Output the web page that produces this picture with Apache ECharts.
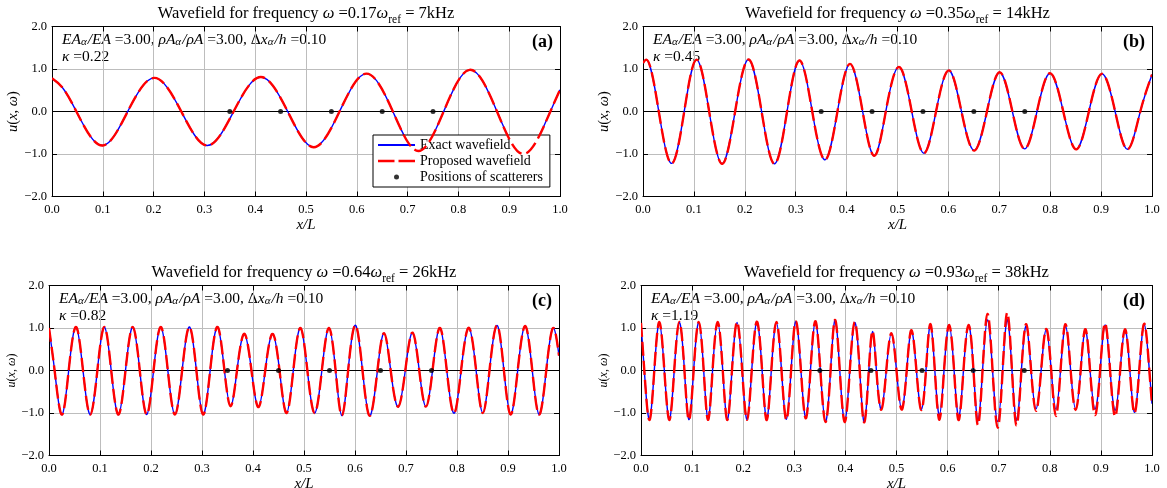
<!DOCTYPE html>
<html>
<head>
<meta charset="utf-8">
<script src="https://cdn.jsdelivr.net/npm/echarts@6/dist/echarts.min.js"></script>
<style>html,body{margin:0;padding:0;background:#fff}#c{width:1167px;height:488px}</style>
</head>
<body>
<div id="c"></div>
<script>
// ---------- data ----------
const xTickLabels = ['0.0','0.1','0.2','0.3','0.4','0.5','0.6','0.7','0.8','0.9','1.0'];
const yTickLabels = ['\u22122.0','\u22121.0','0.0','1.0','2.0'];
const omegaRatios = ['0.17','0.35','0.64','0.93'];
const freqLabels = ['7kHz','14kHz','26kHz','38kHz'];
const kappas = ['0.22','0.45','0.82','1.19'];
const panelTags = ['(a)','(b)','(c)','(d)'];
const stiffnessRatio = '3.00';
const densityRatio = '3.00';
const lengthRatio = '0.10';
const scattererX = [0.35, 0.45, 0.55, 0.65, 0.75];
const scattererY = [0, 0, 0, 0, 0];
const zeroLineX = [0, 1];
const zeroLineY = [0, 0];

// panel (a): extrema and zero crossings
const xA = [0, 0.02, 0.048, 0.100, 0.149, 0.201, 0.2545, 0.305, 0.3575, 0.411, 0.464, 0.515, 0.566, 0.619, 0.671, 0.721, 0.771, 0.822, 0.876, 0.927, 0.981, 1.0];
const exactA = [0.78, 0.57, 0, -0.80, 0, 0.79, 0, -0.80, 0, 0.81, 0, -0.84, 0, 0.89, 0, -0.93, 0, 0.98, 0, -1.00, 0, 0.51];
const proposedA = [0.78, 0.57, 0, -0.80, 0, 0.79, 0, -0.80, 0, 0.81, 0, -0.84, 0, 0.89, 0, -0.93, 0, 0.98, 0, -1.00, 0, 0.51];

// panel (b)
const xB = [0, 0.0066, 0.031, 0.057, 0.081, 0.105, 0.130, 0.156, 0.181, 0.2085, 0.233, 0.259, 0.283, 0.307, 0.3325, 0.359, 0.382, 0.4066, 0.4315, 0.455, 0.477, 0.5046, 0.528, 0.5526, 0.5757, 0.602, 0.6257, 0.651, 0.6757, 0.7007, 0.7257, 0.75, 0.774, 0.7993, 0.8257, 0.852, 0.876, 0.901, 0.9276, 0.952, 0.977, 1.0];
const exactB = [1.14, 1.22, 0, -1.22, 0, 1.22, 0, -1.23, 0, 1.22, 0, -1.23, 0, 1.20, 0, -1.13, 0, 1.12, 0, -1.04, 0, 1.04, 0, -0.98, 0, 0.965, 0, -0.92, 0, 0.925, 0, -0.88, 0, 0.90, 0, -0.89, 0, 0.886, 0, -0.89, 0, 0.87];
const proposedB = [1.14, 1.22, 0, -1.22, 0, 1.22, 0, -1.23, 0, 1.22, 0, -1.23, 0, 1.20, 0, -1.13, 0, 1.12, 0, -1.04, 0, 1.04, 0, -0.98, 0, 0.965, 0, -0.92, 0, 0.925, 0, -0.88, 0, 0.90, 0, -0.89, 0, 0.886, 0, -0.89, 0, 0.87];

// panel (c)
const xC = [0, 0.011, 0.026, 0.0386, 0.0536, 0.0667, 0.081, 0.0948, 0.109, 0.122, 0.1366, 0.150, 0.1647, 0.178, 0.192, 0.205, 0.220, 0.233, 0.247, 0.261, 0.276, 0.289, 0.302, 0.316, 0.331, 0.344, 0.356, 0.3686, 0.3837, 0.397, 0.411, 0.424, 0.439, 0.452, 0.466, 0.479, 0.4934, 0.5066, 0.521, 0.535, 0.549, 0.562, 0.574, 0.5865, 0.6016, 0.6147, 0.628, 0.644, 0.657, 0.670, 0.685, 0.6986, 0.713, 0.726, 0.739, 0.752, 0.767, 0.780, 0.795, 0.808, 0.824, 0.8375, 0.8506, 0.8637, 0.880, 0.892, 0.905, 0.919, 0.9345, 0.9476, 0.9607, 0.975, 0.9895, 1.0];
const exactC = [1.0, 0, -1.035, 0, 1.02, 0, -1.035, 0, 1.02, 0, -1.035, 0, 1.02, 0, -1.035, 0, 1.02, 0, -1.035, 0, 1.02, 0, -1.035, 0, 1.02, 0, -0.84, 0, 0.86, 0, -0.86, 0, 0.86, 0, -1.0, 0, 1.0, 0, -1.0, 0, 1.0, 0, -1.06, 0, 1.06, 0, -1.06, 0, 0.88, 0, -0.85, 0, 0.89, 0, -0.85, 0, 1.0, 0, -1.0, 0, 1.0, 0, -1.0, 0, 1.04, 0, -1.035, 0, 1.04, 0, -1.035, 0, 1.0, 0.35];
const proposedC = [1.0, 0, -1.035, 0, 1.02, 0, -1.035, 0, 1.02, 0, -1.035, 0, 1.02, 0, -1.035, 0, 1.02, 0, -1.035, 0, 1.02, 0, -1.035, 0, 1.02, 0, -0.84, 0, 0.86, 0, -0.86, 0, 0.86, 0, -1.0, 0, 1.0, 0, -1.0, 0, 1.0, 0, -1.06, 0, 1.06, 0, -1.06, 0, 0.88, 0, -0.85, 0, 0.89, 0, -0.85, 0, 1.0, 0, -1.0, 0, 1.0, 0, -1.0, 0, 1.04, 0, -1.035, 0, 1.04, 0, -1.035, 0, 1.0, 0.35];

// panel (d)
const xD = [0, 0.0065, 0.017, 0.026, 0.036, 0.0457, 0.056, 0.065, 0.075, 0.085, 0.0933, 0.103, 0.113, 0.1227, 0.131, 0.140, 0.150, 0.160, 0.1684, 0.178, 0.188, 0.198, 0.2076, 0.2167, 0.226, 0.237, 0.2454, 0.255, 0.265, 0.275, 0.2846, 0.2937, 0.302, 0.313, 0.323, 0.3316, 0.341, 0.351, 0.361, 0.371, 0.379, 0.389, 0.399, 0.4086, 0.418, 0.428, 0.436, 0.4458, 0.453, 0.4607, 0.4705, 0.480, 0.490, 0.500, 0.510, 0.520, 0.528, 0.539, 0.549, 0.5577, 0.5655, 0.575, 0.584, 0.593, 0.603, 0.6127, 0.621, 0.631, 0.641, 0.6507, 0.6586, 0.6684, 0.678, 0.688, 0.698, 0.7077, 0.716, 0.726, 0.7346, 0.7444, 0.754, 0.7634, 0.773, 0.783, 0.793, 0.8028, 0.812, 0.821, 0.831, 0.8408, 0.8506, 0.8604, 0.869, 0.8788, 0.8886, 0.8984, 0.908, 0.918, 0.928, 0.9377, 0.947, 0.9567, 0.9653, 0.975, 0.985, 0.9948, 1.0];
const exactD = [1.11, 0, -1.15, 0, 1.13, 0, -1.15, 0, 1.13, 0, -1.15, 0, 1.13, 0, -1.15, 0, 1.13, 0, -1.15, 0, 1.13, 0, -1.15, 0, 1.13, 0, -1.15, 0, 1.13, 0, -1.15, 0, 1.13, 0, -1.10, 0, 1.15, 0, -1.20, 0, 1.17, 0, -1.20, 0, 1.13, 0, -1.20, 0, 0.92, 0, -0.91, 0, 0.875, 0, -0.91, 0, 0.92, 0, -0.91, 0, 1.07, 0, -1.05, 0, 1.07, 0, -1.09, 0, 1.07, 0, -1.17, 0, 1.19, 0, -1.20, 0, 1.19, 0, -1.17, 0, 1.05, 0, -0.90, 0, 0.96, 0, -0.91, 0, 1.05, 0, -0.91, 0, 0.96, 0, -0.91, 0, 1.07, 0, -0.94, 0, 0.96, 0, -0.98, 0, 1.09, 0, -0.78];
const proposedD = [1.12, 0, -1.16, 0, 1.14, 0, -1.16, 0, 1.14, 0, -1.16, 0, 1.14, 0, -1.16, 0, 1.14, 0, -1.16, 0, 1.14, 0, -1.16, 0, 1.14, 0, -1.16, 0, 1.14, 0, -1.16, 0, 1.14, 0, -1.12, 0, 1.16, 0, -1.21, 0, 1.18, 0, -1.21, 0, 1.14, 0, -1.21, 0, 0.93, 0, -0.92, 0, 0.88, 0, -0.92, 0, 0.93, 0, -0.93, 0, 1.08, 0, -1.16, 0, 1.07, 0, -1.16, 0, 1.07, 0, -1.27, 0, 1.33, 0, -1.35, 0, 1.35, 0, -1.29, 0, 1.09, 0, -0.95, 0, 0.98, 0, -1.07, 0, 1.09, 0, -0.93, 0, 0.97, 0, -1.05, 0, 1.11, 0, -1.08, 0, 0.97, 0, -1.00, 0, 1.10, 0, -0.80];

// ---------- layout & styles ----------
const F = 'Liberation Serif';
const grids = [
  {left: 52, top: 26.5, width: 508, height: 170},
  {left: 643, top: 26.5, width: 509, height: 170},
  {left: 49, top: 285.5, width: 510, height: 170},
  {left: 641, top: 285.5, width: 511, height: 170}
];
const yNameSize = [14.5, 14.5, 12, 12];
const yNameGap = [30, 30, 29, 31];
const panels = [
  {x: xA, exact: exactA, proposed: proposedA},
  {x: xB, exact: exactB, proposed: proposedB},
  {x: xC, exact: exactC, proposed: proposedC},
  {x: xD, exact: exactD, proposed: proposedD}
];
const pairs = (xs, ys) => xs.map((x, k) => [x, ys[k]]);

// smooth curve (natural cubic spline in pixel space) through the projected data points
function splinePath(pts) {
  const n = pts.length;
  const h = [], M = new Array(n).fill(0);
  for (let k = 0; k < n - 1; k++) h[k] = pts[k + 1][0] - pts[k][0];
  const b = [], c = [], r = [], a = [];
  for (let k = 1; k < n - 1; k++) {
    a[k] = h[k - 1]; b[k] = 2 * (h[k - 1] + h[k]); c[k] = h[k];
    r[k] = 6 * ((pts[k + 1][1] - pts[k][1]) / h[k] - (pts[k][1] - pts[k - 1][1]) / h[k - 1]);
  }
  for (let k = 2; k < n - 1; k++) {
    const w = a[k] / b[k - 1];
    b[k] -= w * c[k - 1];
    r[k] -= w * r[k - 1];
  }
  for (let k = n - 2; k >= 1; k--) M[k] = (r[k] - c[k] * M[k + 1]) / b[k];
  let d = 'M' + pts[0][0].toFixed(2) + ',' + pts[0][1].toFixed(2);
  for (let k = 0; k < n - 1; k++) {
    const x0 = pts[k][0], y0 = pts[k][1], x1 = pts[k + 1][0], y1 = pts[k + 1][1], hk = h[k];
    const s = (y1 - y0) / hk;
    const m0 = s - hk * (2 * M[k] + M[k + 1]) / 6;
    const m1 = s + hk * (M[k] + 2 * M[k + 1]) / 6;
    d += ' C' + (x0 + hk / 3).toFixed(2) + ',' + (y0 + m0 * hk / 3).toFixed(2) + ' ' +
         (x1 - hk / 3).toFixed(2) + ',' + (y1 - m1 * hk / 3).toFixed(2) + ' ' +
         x1.toFixed(2) + ',' + y1.toFixed(2);
  }
  return d;
}

function curveSeries(name, xs, ys, i, color, width, dash, z) {
  return {
    name: name, type: 'custom', coordinateSystem: 'cartesian2d',
    xAxisIndex: 2 * i, yAxisIndex: 2 * i, data: pairs(xs, ys), encode: {x: 0, y: 1},
    z: z, silent: true, clip: true, itemStyle: {color: color},
    renderItem: function (params, api) {
      if (params.dataIndex !== 0) return null;
      const pts = xs.map((x, k) => api.coord([x, ys[k]]));
      return {
        type: 'path', silent: true,
        shape: {pathData: splinePath(pts)},
        style: {fill: 'none', stroke: color, lineWidth: width, lineDash: dash || null}
      };
    }
  };
}

const xAxes = [], yAxes = [], series = [], graphics = [];
const tickStyle = {show: true, inside: true, length: 5, lineStyle: {color: '#000', width: 1}};
const lineAx = {onZero: false, lineStyle: {color: '#000', width: 1}};

panels.forEach((p, i) => {
  const g = grids[i];
  xAxes.push({
    type: 'value', gridIndex: i, position: 'bottom', min: 0, max: 1, interval: 0.1,
    axisLine: lineAx, axisTick: tickStyle,
    axisLabel: {show: true, margin: 7, color: '#000', fontFamily: F, fontSize: 12.5,
      formatter: v => xTickLabels[Math.round(v * 10)]},
    splitLine: {show: true, lineStyle: {color: '#bdbdbd', width: 1}},
    name: 'x/L', nameLocation: 'middle', nameGap: 17,
    nameTextStyle: {color: '#000', fontFamily: F, fontStyle: 'italic', fontSize: 15}
  });
  xAxes.push({
    type: 'value', gridIndex: i, position: 'top', min: 0, max: 1, interval: 0.1,
    axisLine: lineAx, axisTick: tickStyle, axisLabel: {show: false}, splitLine: {show: false}
  });
  const ys = yNameSize[i];
  yAxes.push({
    type: 'value', gridIndex: i, position: 'left', min: -2, max: 2, interval: 1,
    axisLine: lineAx, axisTick: tickStyle,
    axisLabel: {show: true, margin: 5, color: '#000', fontFamily: F, fontSize: 12.5,
      formatter: v => yTickLabels[Math.round(v) + 2]},
    splitLine: {show: true, lineStyle: {color: '#bdbdbd', width: 1}},
    name: '{i|u}{r|(}{i|x}{r|, }{i|\u03c9}{r|)}', nameLocation: 'middle', nameGap: yNameGap[i],
    nameTextStyle: {color: '#000', fontFamily: F, fontSize: ys,
      rich: {i: {fontFamily: F, fontStyle: 'italic', fontSize: ys, color: '#000'},
             r: {fontFamily: F, fontSize: ys, color: '#000'}}}
  });
  yAxes.push({
    type: 'value', gridIndex: i, position: 'right', min: -2, max: 2, interval: 1,
    axisLine: lineAx, axisTick: tickStyle, axisLabel: {show: false}, splitLine: {show: false}
  });

  series.push({
    name: 'zero', type: 'line', xAxisIndex: 2 * i, yAxisIndex: 2 * i,
    data: pairs(zeroLineX, zeroLineY), symbol: 'none', showSymbol: false,
    lineStyle: {color: '#000', width: 1}, z: 2, silent: true
  });
  series.push(curveSeries('Exact wavefield', p.x, p.exact, i, '#0000ff', 1.4, null, 3));
  series.push(curveSeries('Proposed wavefield', p.x, p.proposed, i, '#ff0000', 2.4, [14, 5], 4));
  series.push({
    name: 'Positions of scatterers', type: 'scatter', xAxisIndex: 2 * i, yAxisIndex: 2 * i,
    data: pairs(scattererX, scattererY), symbol: 'circle', symbolSize: 5,
    itemStyle: {color: '#000'}, z: 5, silent: true
  });

  const gt = Math.floor(g.top);
  // title
  const cx = g.left + g.width / 2;
  graphics.push({
    type: 'text', x: cx, y: gt - 21, silent: true,
    style: {
      text: '{r|Wavefield for frequency }{i|\u03c9}{r| =' + omegaRatios[i] + '}{i|\u03c9}{s|ref}{r| = ' + freqLabels[i] + '}',
      align: 'center', textAlign: 'center', verticalAlign: 'top', textVerticalAlign: 'top',
      fill: '#000', fontFamily: F, fontSize: 16.5,
      rich: {
        r: {fontFamily: F, fontSize: 16.5, lineHeight: 18, verticalAlign: 'top', fill: '#000'},
        i: {fontFamily: F, fontSize: 16.5, fontStyle: 'italic', lineHeight: 18, verticalAlign: 'top', fill: '#000'},
        s: {fontFamily: F, fontSize: 11.5, lineHeight: 13, padding: [9, 0, 0, 0], verticalAlign: 'top', fill: '#000'}
      }
    }
  });
  // annotation lines
  const annRich = {
    r: {fontFamily: F, fontSize: 15.5, lineHeight: 18, verticalAlign: 'top', fill: '#000'},
    i: {fontFamily: F, fontSize: 15.5, fontStyle: 'italic', lineHeight: 18, verticalAlign: 'top', fill: '#000'},
    s: {fontFamily: F, fontSize: 11, fontStyle: 'italic', lineHeight: 12, padding: [5, 1, 0, 0], verticalAlign: 'top', fill: '#000'}
  };
  graphics.push({
    type: 'text', x: g.left + 10, y: gt + 6, silent: true,
    style: {
      text: '{i|EA}{s|\u03b1}{i|/EA}{r| =' + stiffnessRatio + ', }{i|\u03c1A}{s|\u03b1}{i|/\u03c1A}{r| =' + densityRatio + ', \u0394}{i|x}{s|\u03b1}{i|/h}{r| =' + lengthRatio + '}',
      align: 'left', textAlign: 'left', verticalAlign: 'top', textVerticalAlign: 'top',
      fill: '#000', fontFamily: F, fontSize: 15.5, rich: annRich
    }
  });
  graphics.push({
    type: 'text', x: g.left + 10, y: gt + 23, silent: true,
    style: {
      text: '{i|\u03ba}{r| =' + kappas[i] + '}',
      align: 'left', textAlign: 'left', verticalAlign: 'top', textVerticalAlign: 'top',
      fill: '#000', fontFamily: F, fontSize: 15.5, rich: annRich
    }
  });
  graphics.push({
    type: 'text', x: g.left + g.width - 7, y: gt + 16, silent: true,
    style: {
      text: panelTags[i], align: 'right', textAlign: 'right', verticalAlign: 'middle', textVerticalAlign: 'middle',
      fill: '#000', fontFamily: F, fontSize: 18, fontWeight: 'bold'
    }
  });
});

const option = {
  animation: false,
  backgroundColor: '#fff',
  grid: grids.map(g => Object.assign({containLabel: false, outerBoundsMode: 'none', show: false}, g)),
  xAxis: xAxes,
  yAxis: yAxes,
  series: series,
  legend: {
    orient: 'vertical', left: 373, top: 135, selectedMode: false,
    itemWidth: 37, itemHeight: 5, itemGap: 2,
    padding: [3, 7, 3, 5],
    backgroundColor: '#fff', borderColor: '#000', borderWidth: 1, borderRadius: 0,
    textStyle: {fontFamily: F, fontSize: 14, color: '#000'},
    data: [
      {name: 'Exact wavefield', icon: 'path://M0,0h37v2h-37z', itemStyle: {color: '#0000ff'}},
      {name: 'Proposed wavefield', icon: 'path://M0,0h16.5v2.4h-16.5zM20.5,0h16.5v2.4h-16.5z', itemStyle: {color: '#ff0000'}},
      {name: 'Positions of scatterers', icon: 'circle', itemStyle: {color: '#000'}}
    ]
  },
  graphic: graphics
};

const chart = echarts.init(document.getElementById('c'), null, {renderer: 'canvas'});
chart.setOption(option);
</script>
</body>
</html>
